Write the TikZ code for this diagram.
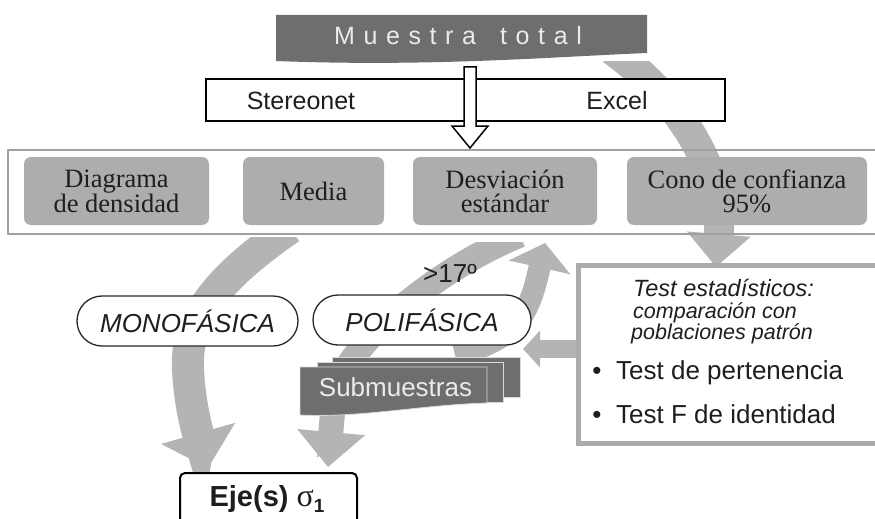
\documentclass[tikz,border=0pt]{standalone}
\usepackage{fontspec}
\setmainfont{Liberation Serif}
\setsansfont{Liberation Sans}
\usetikzlibrary{arrows.meta}
\definecolor{boxgray}{HTML}{ADADAD}
\definecolor{arrgray}{HTML}{B4B4B4}
\definecolor{bannergray}{HTML}{6E6E6E}
\definecolor{framegray}{HTML}{A0A0A0}
\definecolor{statgray}{HTML}{ABABAB}
\definecolor{txt}{HTML}{1E1E1E}
\def\K{\kern8.6pt}
\tikzset{
  graybox/.style={fill=boxgray, draw=none, rounded corners=7pt, text=txt, align=center,
    inner sep=0pt, minimum height=68pt, font=\rmfamily\fontsize{26.5}{24}\selectfont},
  pill/.style={draw=black!85, line width=1.3pt, fill=white, rounded corners=25pt,
    minimum height=50pt, inner sep=0pt, text=txt, font=\sffamily\itshape\fontsize{26}{26}\selectfont},
  fat/.style={draw=arrgray, line width=#1},
  card/.style={fill=bannergray, draw=white!85!black, line width=0.8pt},
  sans/.style={font=\sffamily\fontsize{#1}{#1}\selectfont, text=txt, inner sep=0pt},
  isans/.style={font=\sffamily\itshape\fontsize{#1}{#1}\selectfont, text=txt, inner sep=0pt},
}
\begin{document}
\begin{tikzpicture}[x=1pt,y=-1pt]
\useasboundingbox (0,0) rectangle (875,519);
\clip (0,0) rectangle (875,519);
\fill[white] (0,0) rectangle (875,519);

% ---- arrow from Muestra total to the statistical tests (behind boxes)
\coordinate (e0) at (612,50);
\coordinate (e1) at (665,88);
\coordinate (e2) at (725,160);
\coordinate (e3) at (716,267);
\begin{scope}
\clip (0,62) rectangle (875,519);
\draw[fat=30pt, -{Triangle[length=33pt,width=62pt]}] (e0) .. controls (e1) and (e2) .. (e3);
\end{scope}

% ---- banner
\fill[bannergray] (276,15) -- (647,15) -- (647,53) .. controls (550,57) and (430,67) .. (276,61) -- cycle;
\node[anchor=base, inner sep=0pt, text=white!92!black, font=\sffamily\fontsize{25}{25}\selectfont] (mt) at (458,45)
  {M\K u\K e\K s\K t\K r\K a\K\ \K t\K o\K t\K a\K l};

% ---- Stereonet / Excel bar
\node[draw=black, line width=2pt, fill=white, minimum width=519pt, minimum height=42pt, inner sep=0pt] (bar) at (465.5,100) {};
\node[sans=25, anchor=base] (stereo) at (301,109) {Stereonet};
\node[sans=25, anchor=base] (excel) at (617,109) {Excel};

% ---- white down arrow
\draw[line width=1.5pt, fill=white, line join=miter] (464,67) -- (476,67) -- (476,126) -- (488,126) -- (470,148) -- (452,126) -- (464,126) -- cycle;

% ---- frame with the four grey boxes
\draw[framegray, line width=2.5pt] (8,150) rectangle (878,234);
\node[graybox, minimum width=185pt] (dens) at (116.5,191) {Diagrama\\de densidad};
\node[graybox, minimum width=141pt] (media) at (313.5,191) {Media};
\node[graybox, minimum width=184pt] (desv) at (505,191) {Desviación\\estándar};
\node[graybox, minimum width=240pt] (cono) at (747,191) {Cono de confianza\\95\%};

% ---- arrow Media -> Eje
\begin{scope}
\clip (0,237) rectangle (875,519);
\draw[fat=32pt, -{Triangle[length=36pt,width=75pt]}] (290,228) .. controls (215,280) and (185,320) .. (188,370) .. controls (190,410) and (200,440) .. (208,468);
\end{scope}

% ---- loop arrows around POLIFASICA
\begin{scope}
\clip (0,242) rectangle (875,519);
\draw[fat=25pt, -{Triangle[length=35pt,width=66pt]}] (520,235) .. controls (430,272) and (340,350) .. (334,400) .. controls (331,425) and (330,445) .. (328,467);
\end{scope}
\draw[fat=22pt, -{Triangle[length=25pt,width=62pt]}] (455,355) .. controls (520,340) and (530,310) .. (545,243);

% ---- small arrow from statistical box
\coordinate (s0) at (582,349);
\coordinate (s1) at (523,349);
\draw[fat=18pt, -{Triangle[length=17pt,width=36pt]}] (s0) -- (s1);

% ---- pills
\node[pill, minimum width=221pt] (mono) at (187.5,321) {MONOFÁSICA};
\node[pill, minimum width=218pt] (poli) at (422,320) {POLIFÁSICA};

% ---- >17 label
\node[sans=26, anchor=base] (ang) at (450,282) {>17º};

% ---- Submuestras cards
\draw[card] (332,357) rectangle (520,397);
\draw[card] (317,362) rectangle (503,402);
\draw[card] (300,367) -- (487,367) -- (487,403) .. controls (420,405) and (360,418) .. (300,415) -- cycle;
\node[anchor=base, inner sep=0pt, text=white!92!black, font=\sffamily\fontsize{26}{26}\selectfont] (sub) at (395.5,396) {Submuestras};

% ---- statistical tests box
\draw[statgray, line width=5pt, fill=white] (578,265) rectangle (885,443);
\node[isans=23.5, anchor=base west] (t1) at (633,296) {Test estadísticos:};
\node[isans=21.5, anchor=base west] (t2) at (633,318) {comparación con};
\node[isans=21.5, anchor=base west] (t3) at (631,339) {poblaciones patrón};
\node[sans=26, anchor=base] (bu1) at (597,379) {•};
\node[sans=26, anchor=base west] (b1) at (616,379) {Test de pertenencia};
\node[sans=26, anchor=base] (bu2) at (597,423) {•};
\node[sans=26, anchor=base west] (b2) at (616,423) {Test F de identidad};

% ---- Eje box
\draw[black, line width=2pt, fill=white, rounded corners=5pt] (180,473) rectangle (357,530);
\node[anchor=base, inner sep=0pt, text=txt] (eje) at (267,506)
  {\sffamily\bfseries\fontsize{29}{29}\selectfont Eje(s)\ {\rmfamily\mdseries\fontsize{32}{32}\selectfont σ}\raisebox{-6pt}{\fontsize{19}{19}\selectfont 1}};
\end{tikzpicture}
\end{document}
